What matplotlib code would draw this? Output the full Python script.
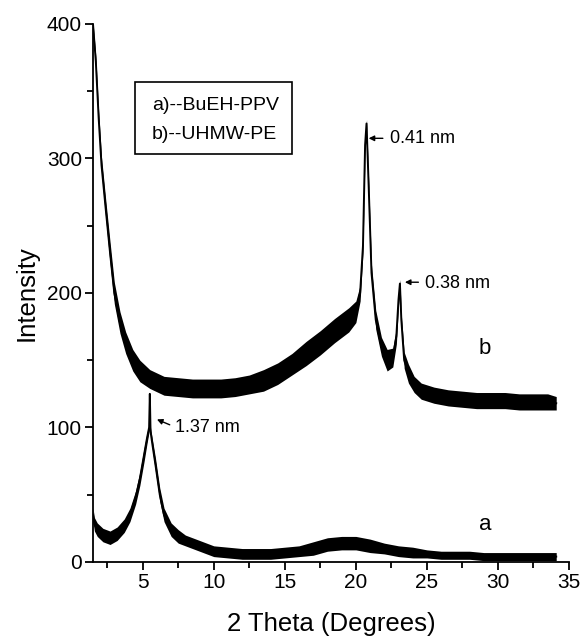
import matplotlib
matplotlib.use("Agg")
import matplotlib.pyplot as plt
from matplotlib.patches import Rectangle
from matplotlib.ticker import MultipleLocator
import numpy as np

plt.rcParams["font.family"] = ["Liberation Sans", "DejaVu Sans"]

# curve b (UHMW-PE)
theta_b = [1.5, 1.7, 1.9, 2.1, 2.4, 2.7, 3.0, 3.4, 3.8, 4.3, 4.8, 5.5, 6.5, 7.5,
           8.5, 9.5, 10.5, 11.5, 12.5, 13.5, 14.5, 15.5, 16.5, 17.5, 18.5, 19.5,
           20.0, 20.3, 20.5, 20.65, 20.75, 20.9, 21.1, 21.4, 21.8, 22.2, 22.6,
           22.85, 23.0, 23.1, 23.2, 23.4, 23.7, 24.1, 24.6, 25.5, 26.5, 27.5,
           28.5, 29.5, 30.5, 31.5, 32.5, 33.5, 34.1]
int_b = [400, 372, 330, 295, 262, 230, 200, 178, 163, 150, 142, 136, 131, 130,
         129, 129, 129, 130, 132, 135, 140, 147, 155, 163, 172, 180,
         186, 200, 235, 310, 326, 280, 215, 180, 160, 150, 152,
         168, 195, 207, 180, 150, 140, 132, 127, 124, 122, 121,
         120, 120, 120, 119, 119, 119, 118]
band_b = [2, 4, 5, 6, 7, 8, 8, 8, 8, 8, 8, 7, 7, 7,
          7, 7, 7, 7, 7, 8, 8, 8, 9, 9, 9, 9,
          8, 6, 5, 3, 3, 4, 6, 7, 7, 8, 7,
          6, 4, 3, 4, 6, 7, 6, 6, 6, 6, 6,
          6, 6, 6, 6, 6, 6, 5]

# curve a (BuEH-PPV)
theta_a = [1.5, 1.6, 1.8, 2.2, 2.7, 3.2, 3.7, 4.1, 4.5, 4.8, 5.1, 5.3, 5.45,
           5.5, 5.55, 5.7, 5.9, 6.2, 6.5, 7.0, 7.5, 8.0, 9.0, 10.0, 11.0, 12.0,
           13.0, 14.0, 15.0, 16.0, 17.0, 18.0, 19.0, 20.0, 21.0, 22.0, 23.0,
           24.0, 25.0, 26.0, 27.0, 28.0, 29.0, 30.0, 31.0, 32.0, 33.0, 34.1]
int_a = [35, 28, 24, 20, 18, 21, 27, 35, 48, 62, 80, 92, 100,
         125, 97, 86, 72, 50, 35, 24, 19, 16, 12, 8, 7, 6,
         6, 6, 7, 8, 10, 13, 14, 14, 12, 10, 8,
         7, 6, 5, 5, 5, 4, 4, 4, 4, 4, 4]
band_a = [5, 5, 5, 5, 5, 5, 5, 5, 5, 5, 5, 4, 3,
          1, 3, 4, 5, 5, 5, 5, 5, 4, 4, 4, 4, 4,
          4, 4, 4, 4, 5, 5, 5, 5, 5, 4, 4,
          4, 3, 3, 3, 3, 3, 3, 3, 3, 3, 3]

fig = plt.figure(figsize=(5.83, 6.43), dpi=100)
ax = fig.add_axes([0.1595, 0.126, 0.8165, 0.8367])

for th, val, band in [(theta_b, int_b, band_b), (theta_a, int_a, band_a)]:
    val = np.array(val, dtype=float)
    band = np.array(band, dtype=float)
    ax.fill_between(th, val - band, val + band, color="black", lw=0)
    ax.plot(th, val, color="black", lw=1.4)

ax.set_xlim(1.5, 35)
ax.set_ylim(0, 400)
ax.xaxis.set_major_locator(MultipleLocator(5))
ax.xaxis.set_minor_locator(MultipleLocator(2.5))
ax.yaxis.set_major_locator(MultipleLocator(100))
ax.yaxis.set_minor_locator(MultipleLocator(50))
for s in ["top", "right"]:
    ax.spines[s].set_visible(False)
for s in ["left", "bottom"]:
    ax.spines[s].set_linewidth(1.3)
ax.tick_params(which="major", length=6, width=1.3, labelsize=15, direction="out", pad=2)
ax.tick_params(which="minor", length=4, width=1.3, direction="out")
ax.set_xlabel("2 Theta (Degrees)", fontsize=18.5, labelpad=14)
ax.set_ylabel("Intensity", fontsize=18.5, labelpad=6)

# legend box
ax.add_patch(Rectangle((0.088, 0.758), 0.33, 0.134, transform=ax.transAxes,
                       fill=False, lw=1.2, ec="black"))
ax.text(0.124, 0.849, "a)--BuEH-PPV", transform=ax.transAxes, fontsize=14, va="center")
ax.text(0.124, 0.794, "b)--UHMW-PE", transform=ax.transAxes, fontsize=14, va="center")

arrow = dict(arrowstyle="-|>", color="black", lw=1.0, mutation_scale=8,
             shrinkA=0, shrinkB=0)
ax.annotate("", xy=(20.9, 315), xytext=(21.9, 315), arrowprops=arrow)
ax.text(22.4, 315, "0.41 nm", fontsize=13, va="center")
ax.annotate("", xy=(23.45, 208), xytext=(24.4, 208), arrowprops=arrow)
ax.text(24.9, 207, "0.38 nm", fontsize=13, va="center")
ax.annotate("", xy=(6.0, 106), xytext=(6.9, 102), arrowprops=arrow)
ax.text(7.25, 100, "1.37 nm", fontsize=13, va="center")

ax.text(29.1, 159, "b", fontsize=16, ha="center", va="center")
ax.text(29.1, 28, "a", fontsize=16, ha="center", va="center")

fig.savefig("out.png", dpi=100)
